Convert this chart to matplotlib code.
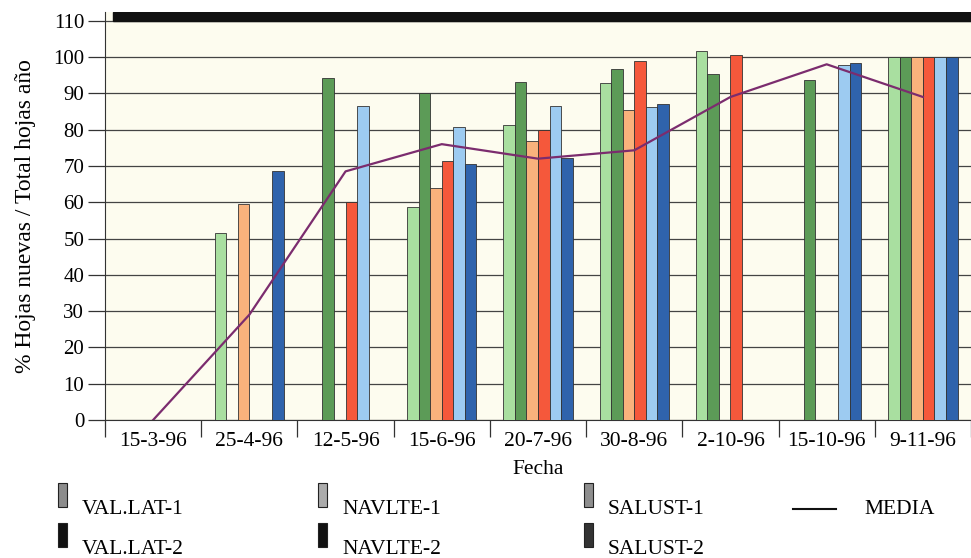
import numpy as np
import matplotlib
matplotlib.use("Agg")
import matplotlib.pyplot as plt
from matplotlib.patches import Rectangle
from matplotlib.lines import Line2D

fechas = ['15-3-96', '25-4-96', '12-5-96', '15-6-96', '20-7-96',
          '30-8-96', '2-10-96', '15-10-96', '9-11-96']

val_lat_1 = [0, 51.5, 0, 58.8, 81.2, 92.9, 101.7, 0, 100]
val_lat_2 = [0, 0, 94.2, 90.0, 93.2, 96.7, 95.2, 93.7, 100]
navlte_1 = [0, 59.5, 0, 63.8, 76.9, 85.4, 0, 0, 100]
navlte_2 = [0, 0, 60.0, 71.4, 79.9, 99.0, 100.5, 0, 100]
salust_1 = [0, 0, 86.5, 80.8, 86.5, 86.1, 0, 97.9, 100]
salust_2 = [0, 68.6, 0, 70.4, 72.3, 87.0, 0, 98.3, 100]
media = [0, 29, 68.5, 76, 72, 74.3, 89, 98, 89]

series = [val_lat_1, val_lat_2, navlte_1, navlte_2, salust_1, salust_2]
colors = ['#a9dfa0', '#5c9b57', '#f9b27c', '#f5583b', '#9dcbf1', '#2f63ac']

plt.rcParams['font.family'] = ['Liberation Serif', 'DejaVu Serif']
fs = 15.5

fig = plt.figure(figsize=(9.71, 5.58), dpi=100)
fig.patch.set_facecolor('white')
ax = fig.add_axes([105 / 971, 138 / 558, 1 - 105 / 971, 407.6 / 558])
ax.set_facecolor('#fdfcef')

x = np.arange(len(fechas))
w = 0.12
for k, (vals, c) in enumerate(zip(series, colors)):
    ax.bar(x + (k - 2.5) * w, vals, width=w, color=c, edgecolor='#333333',
           linewidth=0.6, zorder=3)

ax.plot(x, media, color='#7b2c6e', linewidth=1.6, zorder=4)

ax.set_ylim(0, 112.3)
ax.set_xlim(-0.5, 8.43)
ax.set_yticks(np.arange(0, 111, 10))
ax.yaxis.grid(True, color='#444444', linewidth=0.9, zorder=1)
ax.axhspan(110, 112.3, xmin=8 / 866, xmax=1, color='#111111', zorder=5)

ax.set_xticks(np.arange(-0.5, 9, 1))
ax.set_xticklabels([])
ax.set_xticks(x, minor=True)
ax.set_xticklabels(fechas, minor=True, fontsize=fs)
ax.tick_params(axis='x', which='major', direction='out', length=12,
               width=0.9, color='#333333')
ax.tick_params(axis='x', which='minor', length=0, pad=9)
ax.tick_params(axis='y', direction='out', length=12, width=0.9,
               color='#333333', labelsize=15, pad=3)

for s in ['top', 'right']:
    ax.spines[s].set_visible(False)
ax.spines['left'].set_color('#333333')
ax.spines['bottom'].set_color('#333333')

ax.set_ylabel('% Hojas nuevas / Total hojas año', fontsize=17, labelpad=12)
ax.set_xlabel('Fecha', fontsize=fs, labelpad=6)

# legend (grey swatches like the printed original)
H = 558.0
items = [
    (58, 483, 'VAL.LAT-1', '#8c8c8c'),
    (58, 523, 'VAL.LAT-2', '#111111'),
    (318, 483, 'NAVLTE-1', '#ababab'),
    (318, 523, 'NAVLTE-2', '#111111'),
    (584, 483, 'SALUST-1', '#8e8e8e'),
    (584, 523, 'SALUST-2', '#333333'),
]
for px, py, label, c in items:
    fig.add_artist(Rectangle((px / 971, 1 - (py + 24) / H), 9 / 971, 24 / H,
                             transform=fig.transFigure, facecolor=c,
                             edgecolor='#222222', linewidth=0.8))
    fig.text((px + 24) / 971, 1 - (py + 26) / H, label, fontsize=fs,
             va='center', ha='left')
fig.add_artist(Line2D([793 / 971, 836 / 971], [1 - 509 / H, 1 - 509 / H],
                      transform=fig.transFigure, color='#111111', linewidth=1.5))
fig.text(864 / 971, 1 - 509 / H, 'MEDIA', fontsize=fs, va='center', ha='left')

fig.savefig('out.png', dpi=100)
